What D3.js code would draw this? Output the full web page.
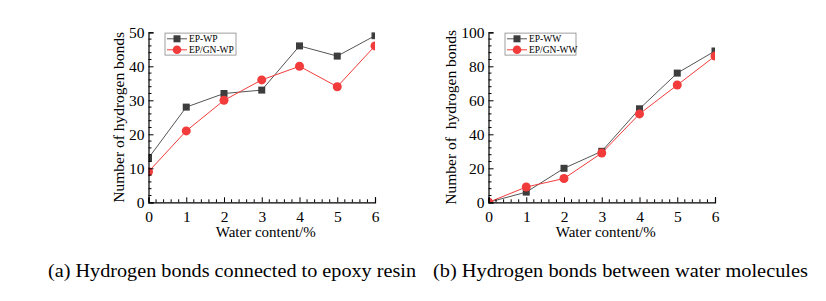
<!DOCTYPE html>
<html><head><meta charset="utf-8">
<script src="https://cdn.jsdelivr.net/npm/d3@7"></script>
<style>html,body{margin:0;padding:0;background:#fff;}</style>
</head>
<body>
<svg id="c" width="826" height="301"></svg>
<script>
const waterContent = [0,1,2,3,4,5,6];
const xTicks = [0,1,2,3,4,5,6];
const epWP   = [13,28,32,33,46,43,49];
const epgnWP = [9,21,30,36,40,34,46];
const epWW   = [0,6,20,30,55,76,89];
const epgnWW = [0,9,14,29,52,69,86];
const yTicksA = [0,10,20,30,40,50];
const yTicksB = [0,20,40,60,80,100];
const seriesNamesA = ["EP-WP","EP/GN-WP"];
const seriesNamesB = ["EP-WW","EP/GN-WW"];
const captions = ["(a) Hydrogen bonds connected to epoxy resin","(b) Hydrogen bonds between water molecules"];

const FONT = "Liberation Serif";
const svg = d3.select("#c");
const GRAY = "#3d3d3d", GLINE = "#555", RED = "#f23b3b";

function panel(id, left, yMax, yTicks, yMinorStep, s1, s2, names, yTitle, titleX, legendX){
  const top = 32.3, W = 226.5, H = 170;
  const g = svg.append("g").attr("transform",`translate(${left},${top})`);
  const x = d3.scaleLinear().domain([0,6]).range([0,W]);
  const y = d3.scaleLinear().domain([0,yMax]).range([H,0]);

  const clipId = "clip"+id;
  g.append("clipPath").attr("id",clipId).append("rect").attr("width",W).attr("height",H);
  const plot = g.append("g").attr("clip-path",`url(#${clipId})`);

  const line = d3.line().x((d,i)=>x(waterContent[i])).y(d=>y(d));
  plot.append("path").datum(s1).attr("d",line).attr("fill","none").attr("stroke",GLINE).attr("stroke-width",1);
  plot.append("path").datum(s2).attr("d",line).attr("fill","none").attr("stroke",RED).attr("stroke-width",1);
  plot.selectAll(".sq").data(s1).join("rect").attr("x",(d,i)=>x(waterContent[i])-3.5).attr("y",d=>y(d)-3.5)
    .attr("width",7).attr("height",7).attr("fill",GRAY);
  plot.selectAll(".ci").data(s2).join("circle").attr("cx",(d,i)=>x(waterContent[i])).attr("cy",d=>y(d))
    .attr("r",4.5).attr("fill",RED);

  const xMinor = d3.range(0,6.0001,0.2).filter(v=>Math.abs(v-Math.round(v))>1e-6);
  const yMinor = d3.range(0,yMax+0.0001,yMinorStep).filter(v=>!yTicks.some(t=>Math.abs(t-v)<1e-6));
  const ax = g.append("g").attr("transform",`translate(0,${H})`)
    .call(d3.axisBottom(x).tickValues(xTicks).tickSize(-5).tickPadding(6).tickFormat(d3.format("d")));
  ax.append("g").selectAll("line").data(xMinor).join("line").attr("x1",d=>x(d)).attr("x2",d=>x(d)).attr("y1",0).attr("y2",-3).attr("stroke","#000");
  const ay = g.append("g")
    .call(d3.axisLeft(y).tickValues(yTicks).tickSize(-5).tickPadding(4).tickFormat(d3.format("d")));
  ay.append("g").selectAll("line").data(yMinor).join("line").attr("y1",d=>y(d)).attr("y2",d=>y(d)).attr("x1",0).attr("x2",3).attr("stroke","#000");
  ax.selectAll(".tick text").attr("y",9);
  ay.selectAll(".tick text").attr("x",-4);
  [ax,ay].forEach(a=>{
    a.attr("font-family",FONT).attr("font-size",15.5);
    a.selectAll("text").attr("font-family",FONT).attr("font-size",15.5).attr("fill","#000");
    a.selectAll("path.domain").attr("stroke","#000").attr("stroke-width",1.2);
    a.selectAll("line").attr("stroke","#000");
  });

  g.append("text").attr("x",W/2+4).attr("y",H+35).attr("text-anchor","middle").attr("font-family",FONT).attr("font-size",15).text("Water content/%");
  g.append("text").attr("transform",`translate(${titleX},${H/2}) rotate(-90)`).attr("text-anchor","middle")
    .attr("dominant-baseline","central").attr("font-family",FONT).attr("font-size",15.5).attr("xml:space","preserve").text(yTitle);

  const lg = g.append("g").attr("transform",`translate(${legendX},0.8)`);
  lg.append("rect").attr("x",0).attr("y",0).attr("width",71).attr("height",22).attr("fill","#fff").attr("stroke","#888").attr("stroke-width",0.8);
  [[GRAY,GLINE,"sq"],[RED,RED,"ci"]].forEach((c,i)=>{
    const cy = 5.7 + i*11;
    lg.append("line").attr("x1",2).attr("x2",22).attr("y1",cy).attr("y2",cy).attr("stroke",c[1]).attr("stroke-width",1);
    if(c[2]==="sq") lg.append("rect").attr("x",12-3.5).attr("y",cy-3.5).attr("width",7).attr("height",7).attr("fill",c[0]);
    else lg.append("circle").attr("cx",12).attr("cy",cy).attr("r",4.3).attr("fill",c[0]);
    lg.append("text").attr("x",24).attr("y",cy).attr("dominant-baseline","central").attr("font-family",FONT).attr("font-size",9.5).text(names[i]);
  });
}

panel("a",148.5,50,yTicksA,2,epWP,epgnWP,seriesNamesA,"Number of hydrogen bonds",-30.5,16.5);
panel("b",488.5,100,yTicksB,4,epWW,epgnWW,seriesNamesB,"Number of  hydrogen bonds",-38.5,16.5);

svg.append("text").attr("x",48).attr("y",277).attr("font-family",FONT).attr("font-size",18).attr("textLength",368).attr("lengthAdjust","spacingAndGlyphs").text(captions[0]);
svg.append("text").attr("x",433).attr("y",277).attr("font-family",FONT).attr("font-size",18).attr("textLength",375).attr("lengthAdjust","spacingAndGlyphs").text(captions[1]);
</script>
</body></html>
